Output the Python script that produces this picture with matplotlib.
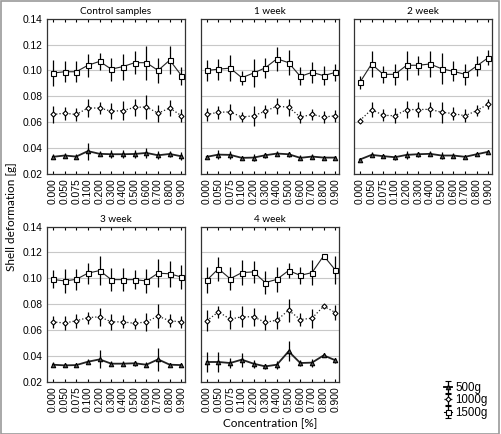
import numpy as np
import matplotlib
matplotlib.use("Agg")
import matplotlib.pyplot as plt
from matplotlib.patches import Rectangle

plt.rcParams["font.family"] = ["Liberation Sans", "DejaVu Sans"]

CONC = ["0.000", "0.050", "0.075", "0.100", "0.200", "0.300", "0.400",
        "0.500", "0.600", "0.700", "0.800", "0.900"]
PANELS = ["Control samples", "1 week", "2 week", "3 week", "4 week"]

# 500 g (triangles)
m500 = [
    [0.0333, 0.0343, 0.0335, 0.0377, 0.0356, 0.0353, 0.0353, 0.0355, 0.0363, 0.0345, 0.0355, 0.0337],
    [0.0333, 0.0350, 0.0348, 0.0325, 0.0327, 0.0345, 0.0358, 0.0353, 0.0325, 0.0335, 0.0327, 0.0327],
    [0.0312, 0.0348, 0.0338, 0.0330, 0.0348, 0.0353, 0.0356, 0.0343, 0.0343, 0.0333, 0.0353, 0.0372],
    [0.0333, 0.0328, 0.0330, 0.0356, 0.0374, 0.0341, 0.0341, 0.0344, 0.0333, 0.0374, 0.0333, 0.0330],
    [0.0354, 0.0354, 0.0346, 0.0372, 0.0341, 0.0320, 0.0333, 0.0436, 0.0346, 0.0349, 0.0405, 0.0367],
]
e500 = [
    [0.0020, 0.0020, 0.0020, 0.0066, 0.0020, 0.0030, 0.0030, 0.0030, 0.0040, 0.0030, 0.0020, 0.0030],
    [0.0010, 0.0033, 0.0030, 0.0015, 0.0030, 0.0020, 0.0020, 0.0020, 0.0020, 0.0020, 0.0010, 0.0010],
    [0.0010, 0.0020, 0.0010, 0.0020, 0.0030, 0.0020, 0.0020, 0.0030, 0.0020, 0.0010, 0.0010, 0.0010],
    [0.0020, 0.0010, 0.0010, 0.0020, 0.0070, 0.0020, 0.0020, 0.0020, 0.0020, 0.0087, 0.0010, 0.0010],
    [0.0077, 0.0080, 0.0035, 0.0054, 0.0030, 0.0020, 0.0030, 0.0077, 0.0026, 0.0030, 0.0010, 0.0020],
]
# 1000 g (diamonds)
m1000 = [
    [0.0660, 0.0670, 0.0660, 0.0710, 0.0710, 0.0685, 0.0690, 0.0715, 0.0718, 0.0670, 0.0710, 0.0650],
    [0.0660, 0.0677, 0.0680, 0.0640, 0.0650, 0.0685, 0.0724, 0.0716, 0.0640, 0.0660, 0.0640, 0.0650],
    [0.0613, 0.0698, 0.0654, 0.0650, 0.0698, 0.0698, 0.0700, 0.0677, 0.0667, 0.0650, 0.0690, 0.0742],
    [0.0664, 0.0655, 0.0672, 0.0697, 0.0703, 0.0664, 0.0664, 0.0652, 0.0664, 0.0708, 0.0672, 0.0664],
    [0.0672, 0.0741, 0.0685, 0.0703, 0.0703, 0.0660, 0.0677, 0.0754, 0.0682, 0.0692, 0.0785, 0.0736],
]
e1000 = [
    [0.0065, 0.0050, 0.0050, 0.0070, 0.0045, 0.0060, 0.0075, 0.0067, 0.0090, 0.0067, 0.0060, 0.0050],
    [0.0053, 0.0050, 0.0060, 0.0036, 0.0077, 0.0050, 0.0060, 0.0067, 0.0045, 0.0045, 0.0043, 0.0045],
    [0.0020, 0.0060, 0.0045, 0.0058, 0.0065, 0.0057, 0.0060, 0.0080, 0.0050, 0.0050, 0.0045, 0.0040],
    [0.0047, 0.0055, 0.0055, 0.0046, 0.0070, 0.0060, 0.0050, 0.0043, 0.0070, 0.0090, 0.0050, 0.0047],
    [0.0080, 0.0047, 0.0073, 0.0080, 0.0070, 0.0060, 0.0072, 0.0090, 0.0047, 0.0073, 0.0010, 0.0055],
]
# 1500 g (squares)
m1500 = [
    [0.0980, 0.0990, 0.0990, 0.1040, 0.1070, 0.1010, 0.1030, 0.1060, 0.1060, 0.1000, 0.1080, 0.0960],
    [0.1000, 0.1010, 0.1018, 0.0944, 0.0980, 0.1020, 0.1090, 0.1060, 0.0954, 0.0985, 0.0960, 0.0985],
    [0.0907, 0.1050, 0.0970, 0.0970, 0.1040, 0.1040, 0.1050, 0.1013, 0.0993, 0.0970, 0.1035, 0.1100],
    [0.0992, 0.0980, 0.0992, 0.1040, 0.1060, 0.0990, 0.0990, 0.0990, 0.0980, 0.1040, 0.1035, 0.1010],
    [0.0985, 0.1074, 0.0997, 0.1044, 0.1050, 0.0967, 0.0992, 0.1060, 0.1023, 0.1044, 0.1174, 0.1064],
]
e1500 = [
    [0.0100, 0.0080, 0.0080, 0.0090, 0.0065, 0.0090, 0.0100, 0.0090, 0.0130, 0.0100, 0.0110, 0.0070],
    [0.0080, 0.0080, 0.0100, 0.0055, 0.0105, 0.0075, 0.0093, 0.0098, 0.0070, 0.0084, 0.0074, 0.0068],
    [0.0050, 0.0103, 0.0068, 0.0080, 0.0110, 0.0075, 0.0100, 0.0120, 0.0077, 0.0080, 0.0080, 0.0060],
    [0.0070, 0.0094, 0.0080, 0.0080, 0.0110, 0.0090, 0.0088, 0.0073, 0.0094, 0.0106, 0.0100, 0.0090],
    [0.0100, 0.0092, 0.0087, 0.0098, 0.0083, 0.0090, 0.0095, 0.0058, 0.0064, 0.0098, 0.0010, 0.0110],
]

fig = plt.figure(figsize=(5.01, 4.34), dpi=100)
fig.patches.append(Rectangle((0.001, 0.001), 0.996, 0.997, transform=fig.transFigure,
                             fill=False, edgecolor="#9a9a9a", linewidth=1.2))

lefts = [0.0938, 0.401, 0.7066]
W, H = 0.2754, 0.358
bottoms = [0.599, 0.120]
x = np.arange(len(CONC))

STYLES = [  # marker, linestyle, linewidth, markersize, facecolor
    ("s", "-", 0.8, 3.6, "white"),
    ("D", ":", 0.9, 2.6, "white"),
    ("^", "-", 1.3, 3.2, "#555555"),
]

for i, title in enumerate(PANELS):
    r, c = divmod(i, 3)
    ax = fig.add_axes([lefts[c], bottoms[r], W, H])
    for (m, e), (mk, ls, lw, ms, fc) in zip(
            [(m1500[i], e1500[i]), (m1000[i], e1000[i]), (m500[i], e500[i])], STYLES):
        ax.errorbar(x, m, yerr=e, fmt="none", ecolor="black", elinewidth=0.9, zorder=3)
        ax.plot(x, m, linestyle=ls, color="#222222", linewidth=lw, zorder=4)
        ax.plot(x, m, linestyle="none", marker=mk, markersize=ms, markerfacecolor=fc,
                markeredgecolor="black", markeredgewidth=0.8, zorder=5)
    ax.set_xlim(-0.5, 11.3)
    ax.set_ylim(0.02, 0.14)
    ax.set_yticks([0.02, 0.04, 0.06, 0.08, 0.10, 0.12, 0.14])
    ax.yaxis.grid(True, color="#c8c8c8", linewidth=0.8)
    ax.set_axisbelow(True)
    ax.set_xticks(x)
    ax.set_xticklabels(CONC, rotation=90, fontsize=7.4)
    ax.tick_params(axis="x", direction="in", top=True, length=2.5, width=0.8, pad=3)
    ax.tick_params(axis="y", direction="in", length=0, labelsize=7.4)
    if c != 0:
        ax.set_yticklabels([])
    ax.set_title(title, fontsize=7.2, fontfamily="Lato", pad=3)
    for s in ax.spines.values():
        s.set_linewidth(0.9)
        s.set_color("#333333")

fig.text(0.022, 0.5, "Shell deformation [g]", rotation=90, ha="center", va="center",
         fontsize=8.5, fontfamily="Lato")
fig.text(0.54, 0.027, "Concentration [%]", ha="center", va="center",
         fontsize=8.5, fontfamily="Lato")

# legend: errorbar handles drawn off-view so only the legend shows them
lax = fig.add_axes([0.87, 0.035, 0.12, 0.085])
lax.set_xlim(10, 11)
lax.axis("off")
handles = []
for mk, ls, lw, ms, fc in [STYLES[2], STYLES[1], STYLES[0]]:
    h = lax.errorbar([0], [0], yerr=[1], fmt=mk, linestyle=ls, color="black", ms=ms,
                     mfc=fc, mew=0.8, capsize=2.5, lw=lw, elinewidth=0.9)
    handles.append(h)
lax.legend(handles, ["500g", "1000g", "1500g"], loc="center", frameon=False,
           fontsize=8.3, handlelength=0.7, handletextpad=0.3, labelspacing=0.05,
           borderpad=0)

fig.savefig("out.png", dpi=100, facecolor="white")
